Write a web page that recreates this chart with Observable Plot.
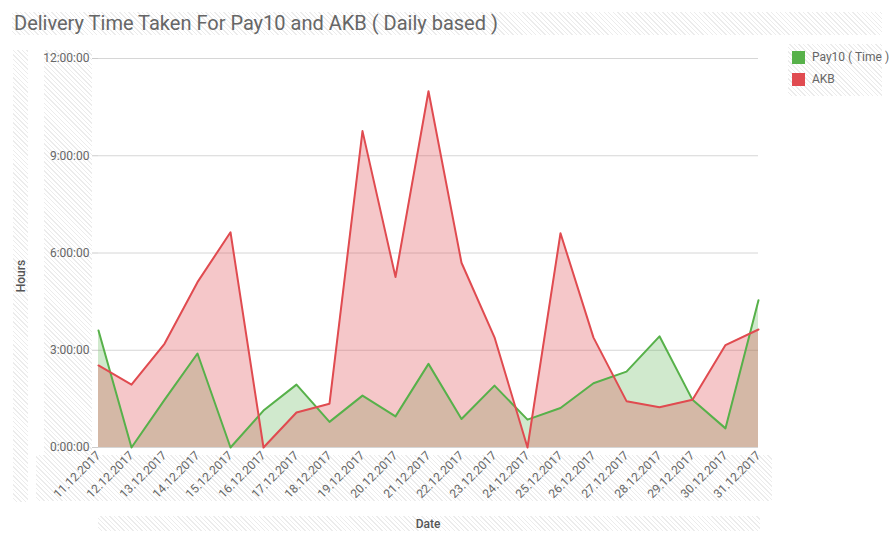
<!DOCTYPE html>
<html>
<head>
<meta charset="utf-8">
<script src="https://cdn.jsdelivr.net/npm/d3@7"></script>
<script src="https://cdn.jsdelivr.net/npm/@observablehq/plot@0.6"></script>
<style>
  html, body { margin: 0; padding: 0; background: #fff; }
  #wrap { position: relative; width: 896px; height: 539px; overflow: hidden; font-family: Roboto, sans-serif; }
  .hatch { position: absolute; background: repeating-linear-gradient(45deg, rgba(0,0,0,0) 0 2.2px, #ececec 2.2px 3.2px); }
  #title { position: absolute; left: 14px; top: 11px; font-size: 20px; color: #666; white-space: nowrap; }
  #ylab { position: absolute; left: 21px; top: 276px; transform: translate(-50%,-50%) rotate(-90deg); font-size: 12px; color: #555; font-weight: 500; }
  #xlab { position: absolute; left: 428px; top: 517px; transform: translateX(-50%); font-size: 12px; color: #555; font-weight: 500; }
  #legend { position: absolute; left: 792px; top: 46px; font-size: 12px; color: #666; }
  .li { display: flex; align-items: center; height: 22px; }
  .sw { width: 13px; height: 13px; margin-right: 7px; }
  #chart { position: absolute; left: 0; top: 0; }
</style>
</head>
<body>
<div id="wrap">
  <div class="hatch" style="left:12px;top:12px;width:870px;height:23px"></div>
  <div class="hatch" style="left:13px;top:50px;width:15px;height:452px"></div>
  <div class="hatch" style="left:44px;top:50px;width:48px;height:405px"></div>
  <div class="hatch" style="left:36px;top:455px;width:736px;height:46px"></div>
  <div class="hatch" style="left:98px;top:516px;width:662px;height:15px"></div>
  <div class="hatch" style="left:788px;top:44px;width:94px;height:52px"></div>
  <div id="chart"></div>
  <div id="title">Delivery Time Taken For Pay10 and AKB ( Daily based )</div>
  <div id="ylab">Hours</div>
  <div id="xlab">Date</div>
  <div id="legend">
    <div class="li"><div class="sw" style="background:#57b14a"></div>Pay10 ( Time )</div>
    <div class="li"><div class="sw" style="background:#e04b50"></div>AKB</div>
  </div>
</div>
<script>
const dates = ["11.12.2017","12.12.2017","13.12.2017","14.12.2017","15.12.2017","16.12.2017","17.12.2017","18.12.2017","19.12.2017","20.12.2017","21.12.2017","22.12.2017","23.12.2017","24.12.2017","25.12.2017","26.12.2017","27.12.2017","28.12.2017","29.12.2017","30.12.2017","31.12.2017"];
const pay10 = [3.61, 0, 1.47, 2.9, 0, 1.14, 1.94, 0.79, 1.6, 0.96, 2.58, 0.88, 1.91, 0.86, 1.22, 1.98, 2.34, 3.43, 1.47, 0.59, 4.54];
const akb = [2.53, 1.94, 3.2, 5.1, 6.64, 0, 1.08, 1.35, 9.76, 5.26, 10.99, 5.7, 3.4, 0, 6.61, 3.39, 1.43, 1.24, 1.47, 3.16, 3.64];
const yTicks = [0, 3, 6, 9, 12];

const data = dates.map((d, i) => ({date: d, pay10: pay10[i], akb: akb[i]}));
const green = "#57b14a", red = "#e04b50";

const chart = Plot.plot({
  width: 896, height: 539,
  marginLeft: 98, marginRight: 138, marginTop: 58, marginBottom: 92,
  style: {background: "transparent", fontFamily: "Roboto, sans-serif", fontSize: "12px", color: "#666"},
  x: {type: "point", domain: dates, padding: 0, label: null},
  y: {domain: [0, 12], label: null},
  marks: [
    Plot.gridY(yTicks, {stroke: "#d6d6d6", strokeOpacity: 1}),
    Plot.areaY(data, {x: "date", y: "pay10", fill: green, fillOpacity: 0.28}),
    Plot.areaY(data, {x: "date", y: "akb", fill: red, fillOpacity: 0.31}),
    Plot.lineY(data, {x: "date", y: "pay10", stroke: green, strokeWidth: 2}),
    Plot.lineY(data, {x: "date", y: "akb", stroke: red, strokeWidth: 2}),
    Plot.axisY(yTicks, {tickFormat: h => `${h}:00:00`, tickSize: 6, tickPadding: 3, stroke: "#ccc", fill: "#666", label: null}),
    Plot.axisX({tickRotate: -45, tickSize: 0, tickPadding: 6, fill: "#666", label: null})
  ]
});
document.getElementById("chart").appendChild(chart);
</script>
</body>
</html>
